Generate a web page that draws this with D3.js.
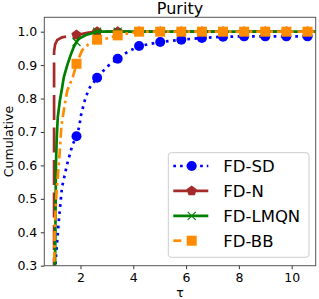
<!DOCTYPE html>
<html>
<head>
<meta charset="utf-8">
<script src="https://cdn.jsdelivr.net/npm/d3@7"></script>
<style>
  body { margin: 0; background: #fff; }
  svg { display: block; font-family: "DejaVu Sans", sans-serif; }
</style>
</head>
<body>
<svg width="319" height="299"></svg>
<script>
// data
const seriesNames = ["FD-SD", "FD-N", "FD-LMQN", "FD-BB"];
const markTau = [1.85, 2.63, 3.41, 4.22, 5.02, 5.82, 6.6, 7.4, 8.2, 9.0, 9.8, 10.6];
const tail = [4.22, 5.02, 5.82, 6.6, 7.4, 8.2, 9.0, 9.8, 10.6, 10.95];

const sdTau = [1.0, 1.05, 1.09, 1.18, 1.3, 1.5, 1.69, 1.85, 1.95, 2.02, 2.1, 2.2, 2.36, 2.63, 3.0, 3.41, 3.8, 4.22, 5.02, 5.82, 6.6, 7.4, 8.2, 9.0, 9.8, 10.6, 10.95];
const sdVal = [0.24, 0.3, 0.345, 0.435, 0.535, 0.605, 0.66, 0.687, 0.715, 0.75, 0.775, 0.805, 0.834, 0.862, 0.895, 0.919, 0.94, 0.957, 0.969, 0.976, 0.981, 0.985, 0.986, 0.986, 0.986, 0.986, 0.986];

const nTau = [1.0, 1.0, 1.04, 1.12, 1.3, 1.85, 2.3, 2.63, 3.41].concat(tail);
const nVal = [0.25, 0.94, 0.962, 0.975, 0.983, 0.99, 0.997, 1.0, 1.0, 1.0, 1.0, 1.0, 1.0, 1.0, 1.0, 1.0, 1.0, 1.0, 1.0];

const lmTau = [1.03, 1.05, 1.07, 1.1, 1.14, 1.22, 1.3, 1.37, 1.5, 1.56, 1.65, 1.75, 1.85, 1.94, 2.2, 2.38, 2.63, 3.41].concat(tail);
const lmVal = [0.25, 0.4, 0.6, 0.68, 0.744, 0.794, 0.83, 0.864, 0.9, 0.914, 0.935, 0.955, 0.969, 0.979, 0.99, 0.994, 1.0, 1.0, 1.0, 1.0, 1.0, 1.0, 1.0, 1.0, 1.0, 1.0, 1.0, 1.0];

const bbTau = [1.0, 1.02, 1.09, 1.2, 1.28, 1.4, 1.5, 1.71, 1.85, 2.06, 2.3, 2.63, 3.0, 3.41, 3.8].concat(tail);
const bbVal = [0.25, 0.4, 0.516, 0.625, 0.72, 0.78, 0.824, 0.864, 0.904, 0.944, 0.962, 0.976, 0.98, 0.989, 0.995, 1.0, 1.0, 1.0, 1.0, 1.0, 1.0, 1.0, 1.0, 1.0, 1.0];

const yTicks = [0.3, 0.4, 0.5, 0.6, 0.7, 0.8, 0.9, 1.0];
const xTicks = [2, 4, 6, 8, 10];

const svg = d3.select("svg");
const L = 44.3, R = 315.7, T = 17.3, B = 265.7;

const x = d3.scaleLinear().domain([0.63, 10.91]).range([L, R]);
const y = d3.scaleLinear().domain([0.3, 1.043]).range([B, T]);

svg.append("clipPath").attr("id", "clip")
    .append("rect").attr("x", L).attr("y", T).attr("width", R - L).attr("height", B - T);

const styles = [
    {color: "#0000ff", dash: "2.7,4.5", marker: "circle", tau: sdTau, val: sdVal},
    {color: "#a52a2a", dash: "25,7.5", marker: "pentagon", tau: nTau, val: nVal},
    {color: "#008000", dash: null, marker: "x", tau: lmTau, val: lmVal},
    {color: "#ff8c00", dash: "10,4,2.7,4", marker: "square", tau: bbTau, val: bbVal}
];

function pentagon(r) {
    const pts = d3.range(5).map(i => {
        const a = (-90 + 72 * i) * Math.PI / 180;
        return [r * Math.cos(a), r * Math.sin(a)];
    });
    return "M" + pts.join("L") + "Z";
}

function drawMarker(g, kind, color, cx, cy) {
    if (kind === "circle") {
        g.append("circle").attr("cx", cx).attr("cy", cy).attr("r", 5).attr("fill", color);
    } else if (kind === "square") {
        g.append("rect").attr("x", cx - 5).attr("y", cy - 5).attr("width", 10).attr("height", 10).attr("fill", color);
    } else if (kind === "pentagon") {
        g.append("path").attr("d", pentagon(5.4)).attr("transform", "translate(" + cx + "," + cy + ")").attr("fill", color);
    } else {
        g.append("path").attr("d", "M-4,-4L4,4M-4,4L4,-4").attr("transform", "translate(" + cx + "," + cy + ")")
            .attr("stroke", color).attr("stroke-width", 1.2).attr("fill", "none");
    }
}

const plot = svg.append("g").attr("clip-path", "url(#clip)");
const line = d3.line().x(d => x(d[0])).y(d => y(d[1]));

styles.forEach(s => {
    const pts = s.tau.map((t, i) => [t, s.val[i]]);
    plot.append("path")
        .attr("d", line(pts))
        .attr("fill", "none")
        .attr("stroke", s.color)
        .attr("stroke-width", 2.7)
        .attr("stroke-dasharray", s.dash);
    pts.filter(p => markTau.includes(p[0])).forEach(p => {
        drawMarker(plot, s.marker, s.color, x(p[0]), y(p[1]));
    });
});

// axes
const yAxis = svg.append("g").attr("transform", "translate(" + L + ",0)")
    .call(d3.axisLeft(y).tickValues(yTicks).tickFormat(d3.format(".1f")).tickSize(3.5).tickPadding(3.5));
const xAxis = svg.append("g").attr("transform", "translate(0," + B + ")")
    .call(d3.axisBottom(x).tickValues(xTicks).tickSize(3.5).tickPadding(3.5));
[yAxis, xAxis].forEach(a => {
    a.select(".domain").remove();
    a.selectAll("text").attr("font-size", 12.5).attr("font-family", "DejaVu Sans").attr("fill", "#000");
    a.selectAll("line").attr("stroke", "#333");
});

svg.append("rect").attr("x", L).attr("y", T).attr("width", R - L).attr("height", B - T)
    .attr("fill", "none").attr("stroke", "#555").attr("stroke-width", 1);

svg.append("text").attr("x", (L + R) / 2).attr("y", 14).attr("text-anchor", "middle")
    .attr("font-size", 16).text("Purity");
svg.append("text").attr("x", (L + R) / 2).attr("y", 297).attr("text-anchor", "middle")
    .attr("font-size", 12.5).text("τ");
svg.append("text").attr("transform", "translate(13," + (T + B) / 2 + ") rotate(-90)")
    .attr("text-anchor", "middle").attr("font-size", 12.5).text("Cumulative");

// legend
const lg = svg.append("g");
lg.append("rect").attr("x", 168.3).attr("y", 152.7).attr("width", 140.7).attr("height", 104.6)
    .attr("rx", 3).attr("fill", "#fff").attr("fill-opacity", 0.8).attr("stroke", "#ccc");
const legDash = ["2.7,4", "25,7.5", null, "8,40"];
const legOff = [0, 10, 0, 0];
seriesNames.forEach((name, i) => {
    const s = styles[i];
    const yy = 166 + i * 24.9;
    lg.append("line").attr("x1", 173.3).attr("x2", 208.3).attr("y1", yy).attr("y2", yy)
        .attr("stroke", s.color).attr("stroke-width", 2.7)
        .attr("stroke-dasharray", legDash[i]).attr("stroke-dashoffset", legOff[i]);
    drawMarker(lg, s.marker, s.color, 191.7, yy);
    lg.append("text").attr("x", 223.3).attr("y", yy + 6).attr("font-size", 16.5).text(name);
});
</script>
</body>
</html>
